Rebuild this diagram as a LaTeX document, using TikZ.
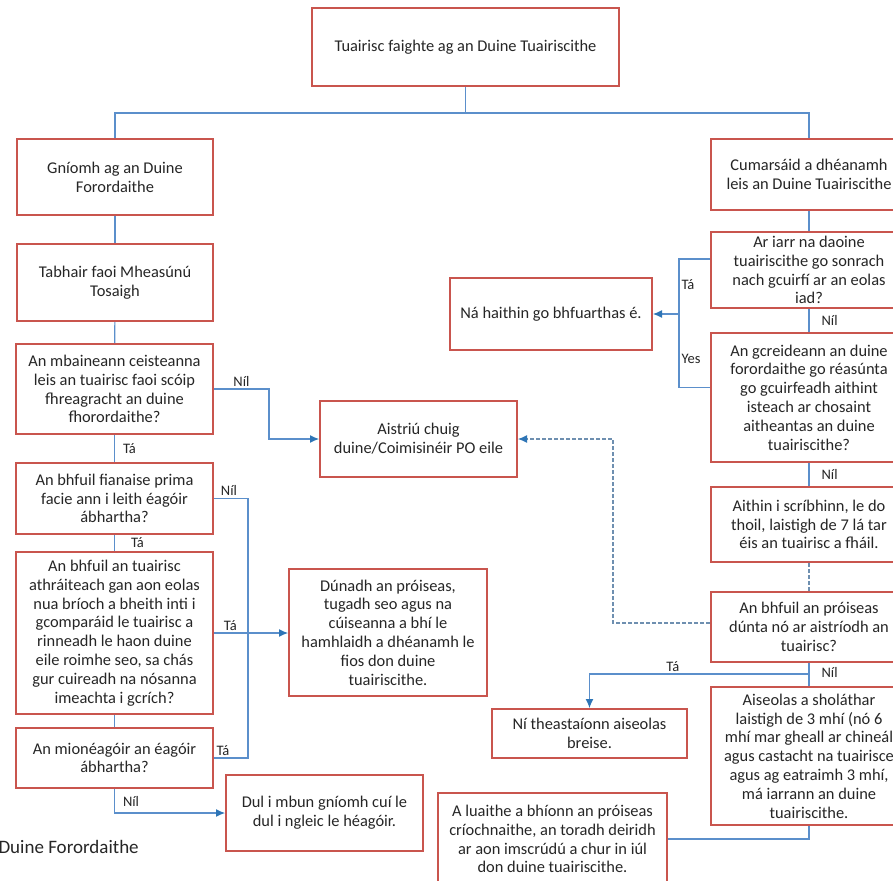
\documentclass[tikz,border=0pt]{standalone}
\usepackage{fontspec}
\setmainfont{Carlito}
\usetikzlibrary{arrows.meta,positioning,calc}
\definecolor{boxred}{HTML}{C9554E}
\definecolor{linkblue}{HTML}{5B8FCB}
\definecolor{dashblue}{HTML}{6E8FB0}
\definecolor{tipblue}{HTML}{2E75B6}

\begin{document}
\begin{tikzpicture}[
    x=1pt, y=-1pt,
    font=\fontsize{16.4}{18.8}\selectfont,
    flowbox/.style 2 args={draw=boxred, line width=2pt, fill=white, text=black!85, align=center, inner sep=1pt, minimum width=#1pt, minimum height=#2pt},
    link/.style={draw=linkblue, line width=1.1pt},
    arrowline/.style={link, -{Latex[length=9pt, width=8pt, color=tipblue]}},
    dashlink/.style={draw=dashblue, line width=1.1pt, dash pattern=on 4pt off 2pt},
    answer/.style={font=\fontsize{14.5}{16}\selectfont, text=black!85, inner sep=2pt}
]

\useasboundingbox (0,0) rectangle (893,880);
\clip (0,0) rectangle (893,880);
\fill[white] (0,0) rectangle (893,880);

% top of the chart
\node[flowbox={307}{78}] (recv) at (465.5,47) {Tuairisc faighte ag an Duine Tuairiscithe};

% left column
\node[flowbox={196}{76}] (gniomh) at (115,177) {Gníomh ag an Duine\\Forordaithe};
\node[flowbox={196}{77}] (tabhair) at (115,282.5) {Tabhair faoi Mheasúnú\\Tosaigh};
\node[flowbox={197}{90}] (mbaineann) at (114.5,389) {An mbaineann ceisteanna\\leis an tuairisc faoi scóip\\fhreagracht an duine\\fhorordaithe?};
\node[flowbox={197}{71}] (fianaise) at (114.5,498.5) {An bhfuil fianaise prima\\facie ann i leith éagóir\\ábhartha?};
\node[flowbox={197}{162}] (athraiteach) at (114.5,633) {An bhfuil an tuairisc\\athráiteach gan aon eolas\\nua bríoch a bheith inti i\\gcomparáid le tuairisc a\\rinneadh le haon duine\\eile roimhe seo, sa chás\\gur cuireadh na nósanna\\imeachta i gcrích?};
\node[flowbox={197}{60}] (mionéagóir) at (114.5,758) {An mionéagóir an éagóir\\ábhartha?};

% middle boxes
\node[flowbox={197}{76}] (dul) at (324.5,813) {Dul i mbun gníomh cuí le\\dul i ngleic le héagóir.};
\node[flowbox={198}{127}] (dunadh) at (388,632.5) {Dúnadh an próiseas,\\tugadh seo agus na\\cúiseanna a bhí le\\hamhlaidh a dhéanamh le\\fios don duine\\tuairiscithe.};
\node[flowbox={197}{76}] (aistriu) at (418.5,439) {Aistriú chuig\\duine/Coimisinéir PO eile};
\node[flowbox={202}{72}] (nahaithin) at (551,314) {Ná haithin go bhfuarthas é.};
\node[flowbox={195}{49}] (nitheast) at (589.5,733.5) {Ní theastaíonn aiseolas\\breise.};
\node[flowbox={229}{92}] (luaithe) at (552.5,839) {A luaithe a bhíonn an próiseas\\críochnaithe, an toradh deiridh\\ar aon imscrúdú a chur in iúl\\don duine tuairiscithe.};

% right column
\node[flowbox={196}{71}] (cumarsaid) at (809,174.5) {Cumarsáid a dhéanamh\\leis an Duine Tuairiscithe};
\node[flowbox={196}{76}] (ariarr) at (809,270) {Ar iarr na daoine\\tuairiscithe go sonrach\\nach gcuirfí ar an eolas\\iad?};
\node[flowbox={196}{129}] (gcreideann) at (809,397.5) {An gcreideann an duine\\forordaithe go réasúnta\\go gcuirfeadh aithint\\isteach ar chosaint\\aitheantas an duine\\tuairiscithe?};
\node[flowbox={196}{75}] (aithin) at (809,524.5) {Aithin i scríbhinn, le do\\thoil, laistigh de 7 lá tar\\éis an tuairisc a fháil.};
\node[flowbox={196}{70}] (proiseas) at (809,627) {An bhfuil an próiseas\\dúnta nó ar aistríodh an\\tuairisc?};
\node[flowbox={196}{138}] (aiseolas) at (809,756) {Aiseolas a sholáthar\\laistigh de 3 mhí (nó 6\\mhí mar gheall ar chineál\\agus castacht na tuairisce\\agus ag eatraimh 3 mhí,\\má iarrann an duine\\tuairiscithe.};

\node[anchor=west, font=\fontsize{19}{22}\selectfont, text=black!85] (caption) at (-5,847) {Duine Forordaithe};

% connectors
\coordinate (fork) at (465.5,113);
\draw[link] (recv) -- (fork) -| (gniomh.north);
\draw[link] (fork) -| (cumarsaid.north);

\draw[link] (gniomh) -- (tabhair);
\draw[link] (tabhair) -- (mbaineann);
\draw[link] (mbaineann) -- node[answer, right, xshift=6pt] {Tá} (fianaise);
\draw[link] (fianaise) -- node[answer, right, xshift=14pt] {Tá} (athraiteach);
\draw[link] (athraiteach) -- (mionéagóir);
\draw[arrowline] (mbaineann.east) -- node[answer, above] {Níl} ++(55,0) |- (aistriu.west);
\draw[link] (fianaise.east) -- node[answer, above, xshift=-2pt] {Níl} ++(34,0) |- node[answer, pos=0.75, above, xshift=-8pt] {Tá} (mionéagóir.east);
\draw[arrowline] (athraiteach.east) -- node[answer, above, pos=0.22] {Tá} (athraiteach.east -| dunadh.west);
\draw[arrowline] (mionéagóir.south) |- node[answer, pos=0.25, right, xshift=6pt] {Níl} (dul.west);

\draw[link] (cumarsaid) -- (ariarr);
\draw[link] ([yshift=11pt]ariarr.west) -- ++(-31,0) coordinate (yesbar) |- node[answer, pos=0.1, right] {Tá} node[answer, pos=0.39, right] {Yes} ([yshift=10pt]gcreideann.west);
\draw[arrowline] (yesbar |- nahaithin.east) -- (nahaithin.east);
\draw[link] (ariarr) -- node[answer, right, xshift=10pt] {Níl} (gcreideann);
\draw[link] (gcreideann) -- node[answer, right, xshift=10pt] {Níl} (aithin);
\draw[dashlink] (aithin) -- (proiseas);
\draw[dashlink, -{Latex[length=9pt, width=8pt, color=tipblue]}] ([yshift=4pt]proiseas.west) -- ++(-97,0) |- (aistriu.east);
\draw[link] (proiseas) -- node[answer, right, pos=0.4, xshift=10pt] {Níl} (aiseolas);
\draw[arrowline] ([yshift=-11pt]proiseas.south) -| node[answer, pos=0.31, above] {Tá} (nitheast.north);
\draw[link] (proiseas.south) -- ([yshift=-11pt]proiseas.south);
\draw[link] (aiseolas.south) |- (luaithe.east);

\end{tikzpicture}
\end{document}
